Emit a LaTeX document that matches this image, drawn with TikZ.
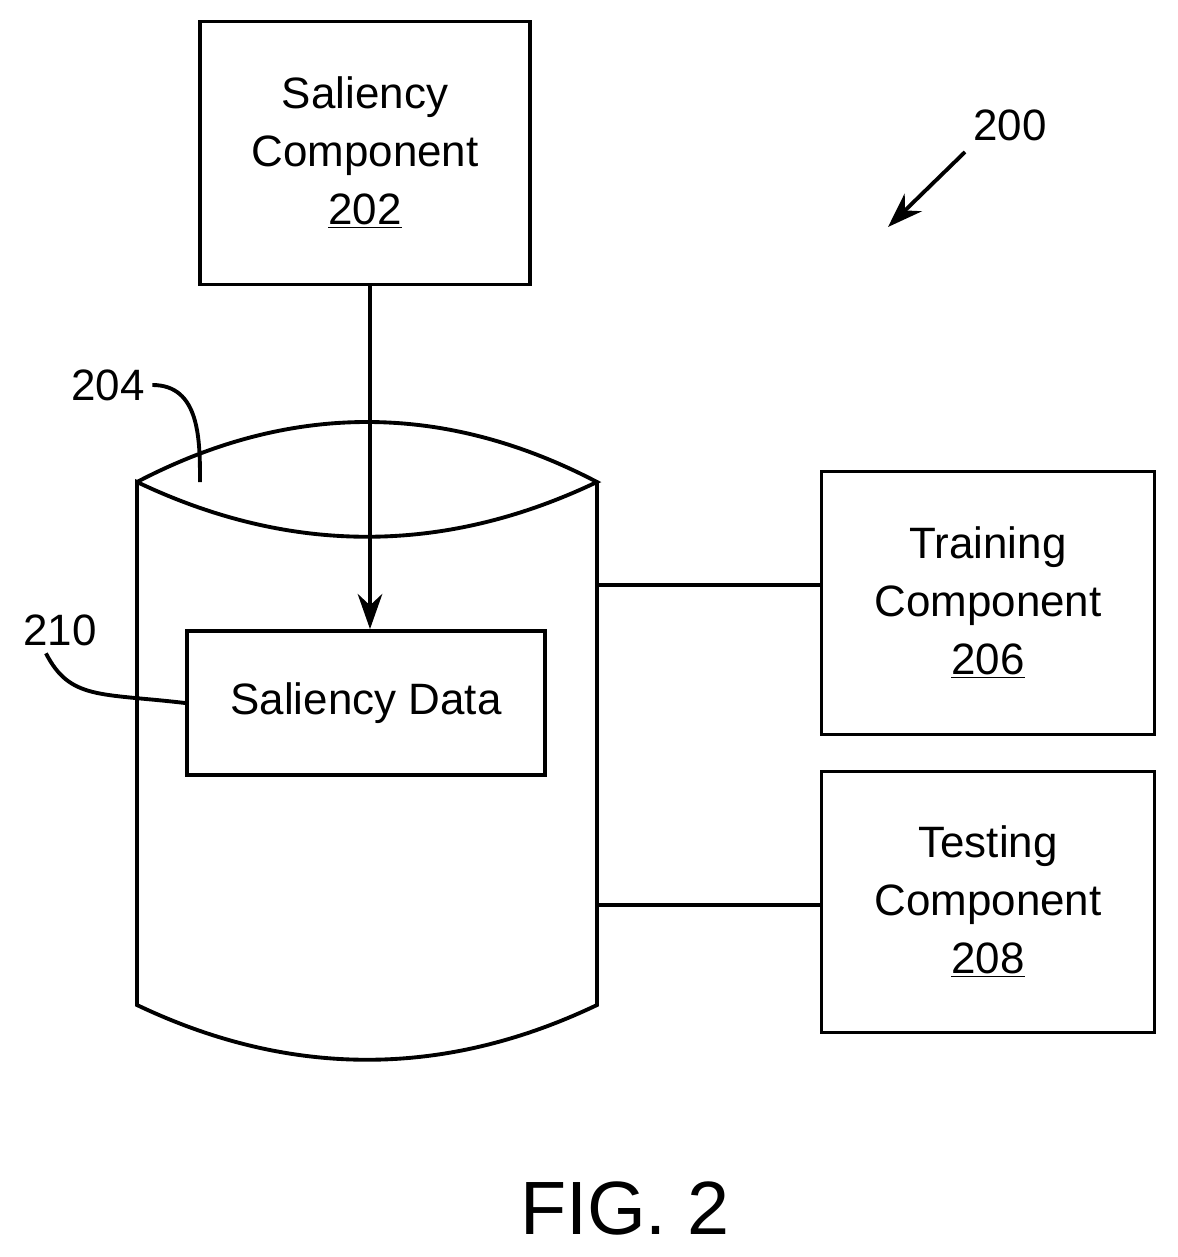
\documentclass[tikz,border=0pt]{standalone}
\usepackage{fontspec}
\setmainfont{Liberation Sans}
\usetikzlibrary{arrows.meta}
\begin{document}
\begin{tikzpicture}[x=0.02cm, y=-0.02cm, line width=2.2pt]
  \tikzstyle{block} = [rectangle, draw, text centered, font=\fontsize{25}{33}\selectfont,
    align=center, inner sep=0pt]
  \tikzstyle{label} = [font=\fontsize{25}{30}\selectfont]
  \tikzstyle{line} = [draw, -{Stealth[length=20pt, width=14pt]}]
  \useasboundingbox (0,0) rectangle (1177,1257);

  % Place nodes
  \node [block, minimum width=330*0.02cm, minimum height=263*0.02cm] (sal) at (365,153)
    {Saliency\\Component\\\underline{202}};
  \node [block, minimum width=358*0.02cm, minimum height=144*0.02cm] (data) at (366,703)
    {Saliency Data};
  \node [block, minimum width=333*0.02cm, minimum height=263*0.02cm] (train) at (988,603)
    {Training\\Component\\\underline{206}};
  \node [block, minimum width=333*0.02cm, minimum height=261*0.02cm] (test) at (988,902)
    {Testing\\Component\\\underline{208}};
  \node [label] (n200) at (1010,125) {200};
  \node [label] (n204) at (108,385) {204};
  \node [label] (n210) at (60,630) {210};
  \node [font=\fontsize{43}{50}\selectfont] (fig) at (625,1208) {FIG. 2};

  % Cylinder
  \coordinate (ctl) at (137,482);
  \coordinate (ctr) at (597,482);
  \coordinate (cbl) at (137,1005);
  \coordinate (cbr) at (597,1005);
  \draw (ctl) .. controls (290,402) and (444,402) .. (ctr)
        .. controls (444,555) and (290,555) .. (ctl) -- (cbl)
        .. controls (290,1078) and (444,1078) .. (cbr) -- (ctr);
  \coordinate (ctrain) at (597,585);
  \coordinate (ctest) at (597,905);
  \coordinate (ctop) at (200,482);
  \coordinate (a200) at (888,227);
  \coordinate (ssal) at (370,285);

  % Draw edges
  \path [line] (ssal) -- (ssal |- data.north);
  \draw (ctrain) -- (ctrain -| train.west);
  \draw (ctest) -- (ctest -| test.west);
  \path [line] (965,152) -- (a200);
  \draw (n204.east) .. controls (200,385) and (200,440) .. (ctop);
  \draw ([xshift=-8pt]n210.south) .. controls (70,700) and (100,693) .. (data.west);
\end{tikzpicture}
\end{document}
